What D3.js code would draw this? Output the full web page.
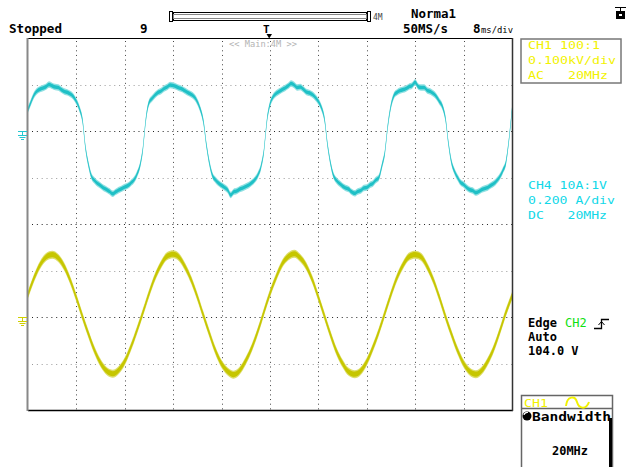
<!DOCTYPE html>
<html>
<head>
<meta charset="utf-8">
<script src="https://cdn.jsdelivr.net/npm/d3@7"></script>
<style>
  body { margin: 0; background: #fff; }
  svg { display: block; }
  text { white-space: pre; }
</style>
</head>
<body>
<div id="scope"></div>
<script>
// 10 div x 8 ms/div
var timeDomain = [0, 80];
var timeDivs = 10;
var vertDivs = 8;

// CH4 current (A), one sample every 0.5 ms
var ch4Step = 0.5;
var ch4Amps = [
  0.092, 0.125, 0.155, 0.172, 0.180, 0.185, 0.191, 0.200, 0.194, 0.189,
  0.187, 0.178, 0.170, 0.166, 0.159, 0.148, 0.127, 0.096, 0.047, -0.072,
  -0.145, -0.196, -0.213, -0.226, -0.235, -0.245, -0.252, -0.260, -0.270, -0.262,
  -0.254, -0.248, -0.241, -0.235, -0.224, -0.211, -0.187, -0.150, -0.075, 0.054,
  0.122, 0.140, 0.155, 0.166, 0.172, 0.183, 0.189, 0.198, 0.196, 0.191,
  0.185, 0.180, 0.172, 0.164, 0.157, 0.146, 0.125, 0.092, 0.040, -0.062,
  -0.140, -0.192, -0.211, -0.224, -0.234, -0.243, -0.254, -0.275, -0.262, -0.258,
  -0.250, -0.245, -0.239, -0.232, -0.222, -0.209, -0.189, -0.155, -0.085, 0.045,
  0.115, 0.146, 0.161, 0.170, 0.178, 0.185, 0.194, 0.204, 0.198, 0.187,
  0.189, 0.180, 0.168, 0.164, 0.157, 0.144, 0.127, 0.100, 0.052, -0.058,
  -0.138, -0.192, -0.213, -0.226, -0.237, -0.245, -0.250, -0.262, -0.268, -0.260,
  -0.256, -0.245, -0.243, -0.232, -0.226, -0.211, -0.200, -0.150, -0.090, 0.028,
  0.110, 0.153, 0.166, 0.174, 0.178, 0.183, 0.191, 0.196, 0.209, 0.191,
  0.187, 0.187, 0.174, 0.170, 0.161, 0.148, 0.127, 0.105, 0.054, -0.054,
  -0.135, -0.174, -0.200, -0.221, -0.230, -0.243, -0.252, -0.256, -0.265, -0.260,
  -0.252, -0.247, -0.243, -0.234, -0.226, -0.213, -0.196, -0.170, -0.135, -0.037,
  0.092
];

// CH1 voltage (V), one sample every 1 ms
var ch1Step = 1;
var ch1Volts = [
  48, 84, 112, 129, 134, 127, 108, 78, 41, 1,
  -37, -72, -99, -116, -122, -114, -95, -65, -29, 10,
  50, 86, 113, 131, 135, 128, 107, 79, 43, 3,
  -36, -73, -101, -117, -124, -115, -94, -66, -30, 11,
  51, 85, 114, 130, 136, 127, 109, 80, 42, 2,
  -38, -74, -100, -118, -123, -116, -96, -66, -31, 9,
  49, 85, 112, 130, 134, 129, 108, 79, 42, 1,
  -37, -72, -100, -117, -123, -115, -95, -67, -30, 10,
  45
];

// channel settings: units per div, ground position in div from centre
var ch1PerDiv = 100, ch1Position = -2;
var ch4PerDiv = 0.2, ch4Position = 2;

// side panel texts
var ch1Lines = ["CH1 100:1", "0.100kV/div", "AC   20MHz"];
var ch4Lines = ["CH4 10A:1V", "0.200 A/div", "DC   20MHz"];

var width = 628, height = 467;
var plotLeft = 28, plotRight = 512, plotTop = 38, plotBottom = 410;

var svg = d3.select("#scope").append("svg")
  .attr("width", width)
  .attr("height", height);

var x = d3.scaleLinear().domain(timeDomain).range([plotLeft, plotRight]);
var yDiv = d3.scaleLinear().domain([-vertDivs / 2, vertDivs / 2]).range([plotBottom, plotTop]);
var yCh1 = d3.scaleLinear()
  .domain([(-4 - ch1Position) * ch1PerDiv, (4 - ch1Position) * ch1PerDiv])
  .range([plotBottom, plotTop]);
var yCh4 = d3.scaleLinear()
  .domain([(-4 - ch4Position) * ch4PerDiv, (4 - ch4Position) * ch4PerDiv])
  .range([plotBottom, plotTop]);

var mono = "'DejaVu Sans Mono', monospace";

// grid
var divMs = (timeDomain[1] - timeDomain[0]) / timeDivs;
svg.selectAll(".vgrid")
  .data(d3.range(1, timeDivs))
  .enter().append("line")
  .attr("x1", d => Math.round(x(d * divMs)) + 0.5)
  .attr("x2", d => Math.round(x(d * divMs)) + 0.5)
  .attr("y1", plotTop + 3).attr("y2", plotBottom)
  .attr("stroke", "#444")
  .attr("stroke-dasharray", "1,3.65");

svg.selectAll(".hgrid")
  .data(d3.range(-3, 4))
  .enter().append("line")
  .attr("x1", plotLeft + 4).attr("x2", plotRight)
  .attr("y1", d => Math.round(yDiv(d)) + 0.5)
  .attr("y2", d => Math.round(yDiv(d)) + 0.5)
  .attr("stroke", d => (d % 2 == 0) ? "#222" : "#999")
  .attr("stroke-dasharray", "1,3.84");

// traces: drawn as a vertical band, like a noisy scope trace
function band(scale, half, step) {
  return d3.area()
    .x((d, i) => x(i * step))
    .y0(d => scale(d) - half)
    .y1(d => scale(d) + half)
    .curve(d3.curveMonotoneX);
}

svg.append("path").datum(ch4Amps)
  .attr("d", band(yCh4, 3.2, ch4Step))
  .attr("fill", "#8fe0e2");
svg.append("path").datum(ch4Amps)
  .attr("d", band(yCh4, 1.8, ch4Step))
  .attr("fill", "#1fc0c6");

svg.append("path").datum(ch1Volts)
  .attr("d", band(yCh1, 4, ch1Step))
  .attr("fill", "#dede6a");
svg.append("path").datum(ch1Volts)
  .attr("d", band(yCh1, 2.6, ch1Step))
  .attr("fill", "#c6c600");

// frame
svg.append("line").attr("x1", plotLeft).attr("x2", plotRight + 1).attr("y1", plotTop + 0.5).attr("y2", plotTop + 0.5)
  .attr("stroke", "#000");
svg.append("line").attr("x1", plotLeft).attr("x2", plotRight + 1).attr("y1", plotBottom + 0.5).attr("y2", plotBottom + 0.5)
  .attr("stroke", "#000").attr("stroke-width", 1.5);
svg.append("line").attr("x1", plotLeft - 0.5).attr("x2", plotLeft - 0.5).attr("y1", plotTop).attr("y2", plotBottom + 1)
  .attr("stroke", "#888").attr("stroke-width", 2);
svg.append("line").attr("x1", plotRight + 0.5).attr("x2", plotRight + 0.5).attr("y1", plotTop).attr("y2", plotBottom + 1)
  .attr("stroke", "#333").attr("stroke-width", 1.5);

// ground markers
function groundMark(y0, color) {
  var g = svg.append("g").attr("stroke", color).attr("stroke-width", 1);
  g.append("line").attr("x1", 18).attr("x2", 27).attr("y1", y0 + 0.5).attr("y2", y0 + 0.5);
  g.append("line").attr("x1", 22.5).attr("x2", 22.5).attr("y1", y0).attr("y2", y0 + 4);
  g.append("line").attr("x1", 18).attr("x2", 27).attr("y1", y0 + 4.5).attr("y2", y0 + 4.5);
  g.append("line").attr("x1", 19.5).attr("x2", 25.5).attr("y1", y0 + 6.5).attr("y2", y0 + 6.5);
  g.append("line").attr("x1", 21).attr("x2", 24).attr("y1", y0 + 8.5).attr("y2", y0 + 8.5);
}
groundMark(Math.round(yCh4(0)), "#22c8d0");
groundMark(Math.round(yCh1(0)), "#d0d000");

// header
function label(txt, px, py, opts) {
  opts = opts || {};
  var t = svg.append("text")
    .attr("x", px).attr("y", py)
    .attr("font-family", mono)
    .attr("font-size", opts.size || 12.5)
    .attr("font-weight", opts.weight || "bold")
    .attr("fill", opts.color || "#000")
    .text(txt);
  if (opts.len) t.attr("textLength", opts.len).attr("lengthAdjust", "spacingAndGlyphs");
  return t;
}
label("Stopped", 9, 33, {len: 53});
label("9", 140, 33);
label("Norma1", 411, 18, {len: 45});
label("50MS/s", 403, 33, {len: 45});
label("8", 473, 33);
label("ms/div", 481, 33, {size: 9, weight: "normal", len: 32});
label("<< Main:4M >>", 229, 47, {size: 8.5, weight: "normal", color: "#b4b4b4", len: 68});

// record length bar
svg.append("rect").attr("x", 169.5).attr("y", 11.5).attr("width", 3).attr("height", 10)
  .attr("fill", "#fff").attr("stroke", "#000");
svg.append("rect").attr("x", 173.5).attr("y", 12.5).attr("width", 193).attr("height", 8)
  .attr("fill", "#fff").attr("stroke", "#000");
svg.append("rect").attr("x", 173.5).attr("y", 14.5).attr("width", 193).attr("height", 4)
  .attr("fill", "none").attr("stroke", "#888");
svg.append("rect").attr("x", 367.5).attr("y", 11.5).attr("width", 3).attr("height", 10)
  .attr("fill", "#fff").attr("stroke", "#000");
label("4M", 373, 20, {size: 8, weight: "normal", color: "#444"});

// trigger position marker
label("T", 263, 33, {size: 11});
svg.append("path").attr("d", "M266.5,34 L272,34 L269.2,38.5 Z").attr("fill", "#000");

// top right icon
svg.append("line").attr("x1", 615).attr("x2", 626).attr("y1", 7.5).attr("y2", 7.5).attr("stroke", "#000");
svg.append("line").attr("x1", 620.5).attr("x2", 620.5).attr("y1", 7).attr("y2", 11).attr("stroke", "#000");
svg.append("rect").attr("x", 616).attr("y", 11).attr("width", 9).attr("height", 8).attr("fill", "#000");
svg.append("rect").attr("x", 619).attr("y", 14).attr("width", 3).attr("height", 2).attr("fill", "#fff");

// CH1 box
svg.append("rect").attr("x", 521).attr("y", 39).attr("width", 100).attr("height", 44)
  .attr("fill", "none").attr("stroke", "#777").attr("stroke-width", 1.5);
ch1Lines.forEach(function(t, i) {
  label(t, 528, 49 + i * 15, {size: 10, weight: "normal", color: "#f2f200", len: t.length * 8});
});

// CH4 text
ch4Lines.forEach(function(t, i) {
  label(t, 528, 189 + i * 15, {size: 10, weight: "normal", color: "#10d8e8", len: t.length * 7.9});
});

// trigger settings
label("Edge", 528, 327, {size: 12});
label("CH2", 565, 327, {size: 12, weight: "normal", color: "#10e010"});
svg.append("path").attr("d", "M594,328.5 H601.5 V319.5 H609")
  .attr("fill", "none").attr("stroke", "#000").attr("stroke-width", 1.3);
svg.append("path").attr("d", "M598.5,325 L601.5,321.5 L604.5,325").attr("fill", "none").attr("stroke", "#000");
label("Auto", 528, 341, {size: 12});
label("104.0 V", 528, 355, {size: 12});

// bandwidth menu box
svg.append("rect").attr("x", 521.5).attr("y", 395.5).attr("width", 91).attr("height", 80)
  .attr("fill", "#fff").attr("stroke", "#666").attr("stroke-width", 1.5);
svg.append("line").attr("x1", 521).attr("x2", 613).attr("y1", 408.5).attr("y2", 408.5)
  .attr("stroke", "#666").attr("stroke-width", 1.5);
label("CH1", 524, 407, {size: 10, weight: "normal", color: "#f2f200", len: 24});
svg.append("path").attr("d", "M566,406 C567,396 575,395 577,402 C579,409 586,410 589,402")
  .attr("fill", "none").attr("stroke", "#f2f200").attr("stroke-width", 2);
svg.append("circle").attr("cx", 527).attr("cy", 416).attr("r", 4.5).attr("fill", "#000");
svg.append("path").attr("d", "M524,415 A3.2,3.2 0 0 1 528,412.5").attr("fill", "none").attr("stroke", "#fff").attr("stroke-width", 1.2);
label("Bandwidth", 532, 421, {size: 12, len: 79});
label("20MHz", 552, 455, {size: 12, len: 36});
svg.append("rect").attr("x", 609).attr("y", 418).attr("width", 3).attr("height", 49).attr("fill", "#000");
</script>
</body>
</html>
